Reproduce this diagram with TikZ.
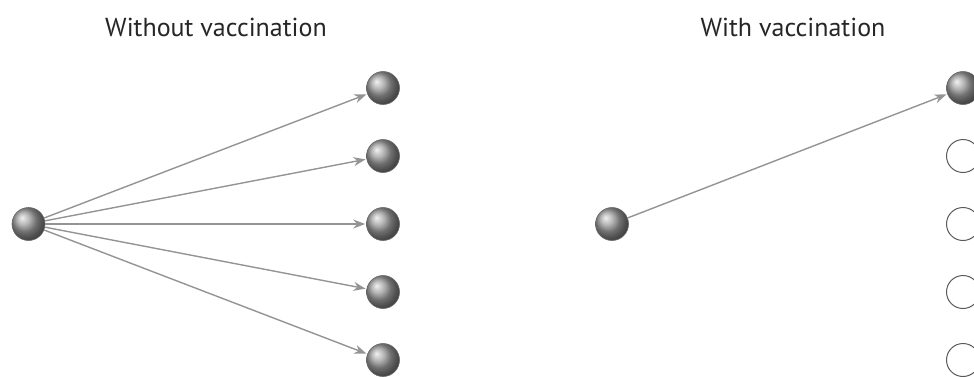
\documentclass[tikz,border=0pt]{standalone}
\usepackage{fontspec}
\setmainfont{PT Sans}
\usetikzlibrary{arrows.meta}
\begin{document}
\begin{tikzpicture}[x=1pt,y=-1pt,
  ball/.style={circle,minimum size=33pt,inner sep=0pt,shading=ball,ball color=gray!75,draw=black!60,line width=0.6pt},
  empty/.style={circle,minimum size=33pt,inner sep=0pt,draw=black!65,line width=1pt,fill=white},
  link/.style={draw=black!42,line width=1.4pt,-{Stealth[length=12pt,width=9pt]},shorten >=1pt},
  title/.style={font=\fontsize{26}{30}\selectfont,text=black!85}]
\useasboundingbox (0,0) rectangle (974,376);
\node[title] (t1) at (216,27) {Without vaccination};
\node[title] (t2) at (793,27) {With vaccination};
\node[ball] (s1) at (28.5,224) {};
\foreach \i/\y in {1/88,2/156,3/224,4/292,5/360}{
  \node[ball] (a\i) at (383,\y) {};
  \draw[link] (s1) -- (a\i);
}
\node[ball] (s2) at (612,224) {};
\node[ball] (b1) at (963,88) {};
\foreach \i/\y in {2/156,3/224,4/292,5/360}{
  \node[empty] (b\i) at (963,\y) {};
}
\draw[link] (s2) -- (b1);
\end{tikzpicture}
\end{document}
